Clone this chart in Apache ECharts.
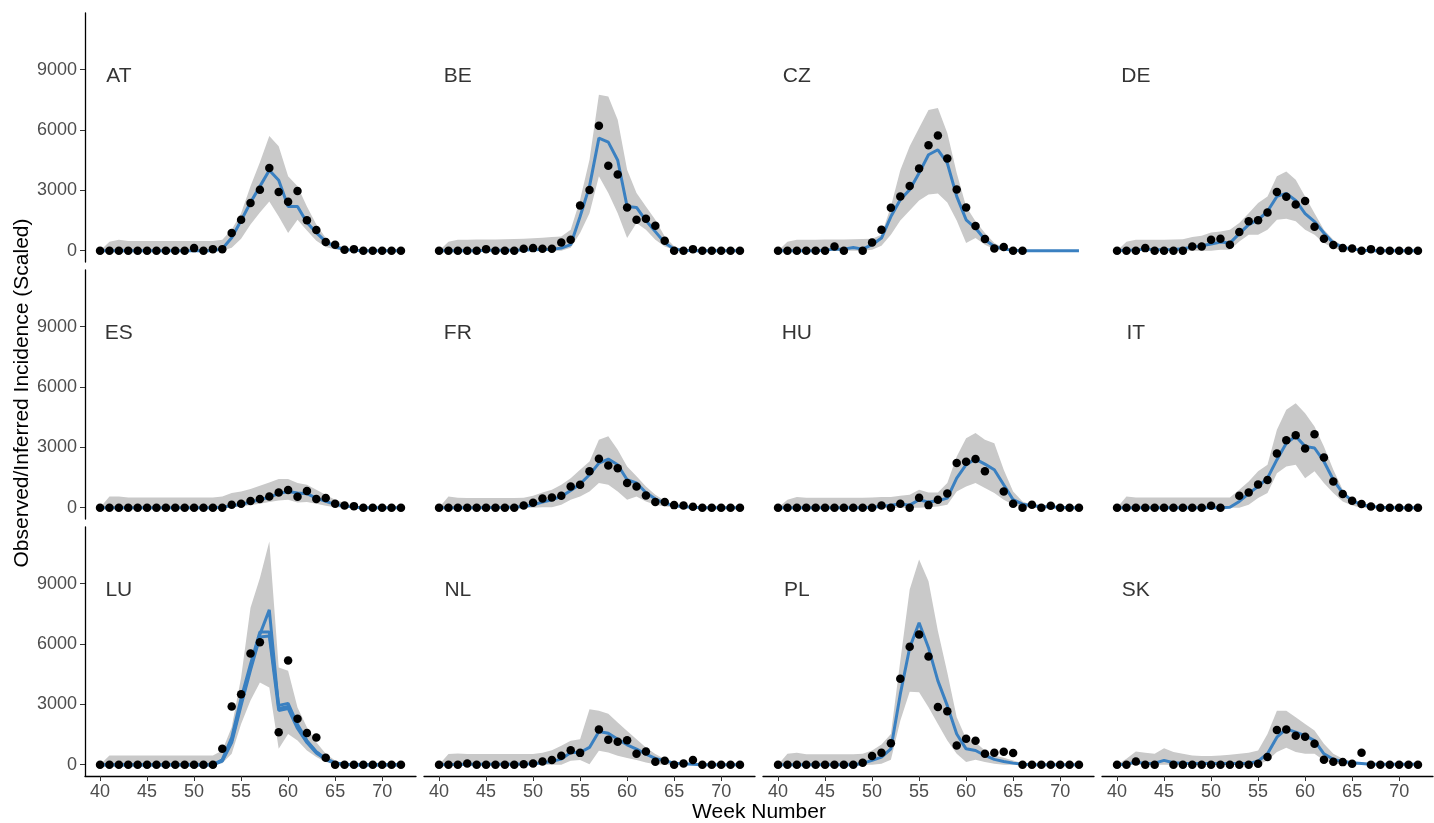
<!DOCTYPE html>
<html>
<head>
<meta charset="utf-8">
<title>Observed/Inferred Incidence by country</title>
<script src="https://cdn.jsdelivr.net/npm/echarts@6/dist/echarts.min.js"></script>
<style>
  html, body { margin: 0; padding: 0; background: #fff; }
  #chart { width: 1434px; height: 823px; }
</style>
</head>
<body>
<div id="chart"></div>
<script>
// week 40 .. 72
const weeks = [40,41,42,43,44,45,46,47,48,49,50,51,52,53,54,55,56,57,58,59,60,61,62,63,64,65,66,67,68,69,70,71,72];
const xTicks = [40,45,50,55,60,65,70];
const yTicks = [0,3000,6000,9000];

// AT
const atObs = [0,0,0,0,0,0,0,0,0,0,130,0,80,80,880,1540,2370,3030,4110,2920,2440,2970,1510,1030,430,300,50,80,0,0,0,0,0];
const atMed = [0,0,0,0,0,0,0,0,0,0,0,0,0,100,650,1500,2400,3200,4000,3500,2200,2200,1400,900,450,200,60,20,0,0,0,0,0];
const atLo  = [0,0,0,0,0,0,0,0,0,0,0,0,0,0,150,600,1300,1900,2450,1700,880,1540,1000,500,180,60,0,0,0,0,0,0,0];
const atHi  = [0,450,550,480,480,480,480,480,480,480,480,480,480,550,1040,1870,3200,4400,5700,5200,3700,3200,2200,1300,630,300,130,40,0,0,0,0,0];
// BE
const beObs = [0,0,0,0,0,80,0,0,0,100,130,100,100,410,550,2250,3020,6210,4230,3790,2150,1540,1590,1240,500,0,0,80,0,0,0,0,0];
const beMed = [0,0,0,0,0,20,20,20,30,40,50,60,70,130,300,1700,3200,5600,5400,4500,2200,2150,1500,950,400,80,20,0,0,0,0,0,0];
const beLo  = [0,0,0,0,0,0,0,0,0,0,0,0,0,0,150,880,1870,3700,2870,1870,630,1375,1040,550,215,50,0,0,0,0,0,0,0];
const beHi  = [0,450,550,550,560,560,560,570,580,600,620,650,680,710,1040,2540,4520,7750,7670,6510,4030,2870,2200,1540,710,220,50,0,0,0,0,0,0];
// CZ
const czObs = [0,0,0,0,0,0,215,0,null,0,410,1040,2140,2700,3220,4090,5250,5730,4590,3050,2150,1230,580,115,180,0,0,null,null,null,null,null,null];
const czMed = [0,0,0,0,0,30,80,80,165,80,300,630,1700,2540,3030,3860,4770,5020,4360,2700,1540,1130,550,215,80,20,0,0,0,0,0,0,0];
const czLo  = [0,0,0,0,0,0,0,0,0,0,50,250,800,1500,2000,2500,2800,2850,2400,1500,380,630,300,80,0,0,0,0,0,0,0,0,0];
const czHi  = [0,450,550,550,550,560,560,560,570,580,600,800,2200,4000,5200,6100,7000,7100,5850,3860,2200,1460,880,380,130,30,0,0,0,0,0,0,0];
// DE
const deObs = [0,0,0,130,0,0,0,0,215,215,550,600,300,930,1470,1510,1900,2920,2680,2300,2470,1190,600,280,130,115,0,80,0,0,0,0,0];
const deMed = [0,20,40,80,50,50,60,100,180,250,330,430,380,850,1300,1540,1960,2700,2850,2500,1850,1450,880,380,180,80,30,0,0,0,0,0,0];
const deLo  = [0,0,0,0,0,0,0,0,0,0,0,50,50,460,800,800,1040,1540,1590,1460,1040,800,380,130,0,0,0,0,0,0,0,0,0];
const deHi  = [0,450,550,550,550,550,560,570,680,750,910,960,1040,1375,1870,2370,2700,3700,3940,3530,2700,1870,1040,550,250,100,0,0,0,0,0,0,0];
// ES
const esObs = [0,0,0,0,0,0,0,0,0,0,0,0,0,0,150,200,330,430,560,760,880,550,830,430,480,200,115,80,0,0,0,0,0];
const esMed = [0,0,0,0,0,0,0,0,0,0,0,0,0,30,100,170,280,400,530,700,810,730,700,480,315,165,80,30,0,0,0,0,0];
const esLo  = [0,0,0,0,0,0,0,0,0,0,0,0,0,0,30,60,130,200,280,365,400,265,280,200,100,30,0,0,0,0,0,0,0];
const esHi  = [0,560,560,510,510,510,510,510,510,510,510,510,510,560,730,810,930,1090,1260,1425,1425,1230,1140,900,650,400,230,100,30,0,0,0,0];
// FR
const frObs = [0,0,0,0,0,0,0,0,0,115,250,465,510,600,1060,1140,1810,2440,2100,1960,1230,1060,610,280,280,130,115,50,0,0,0,0,0];
const frMed = [0,0,0,0,0,10,15,20,30,65,150,280,400,560,860,1180,1640,2220,2420,2140,1390,1230,760,430,230,115,50,20,0,0,0,0,0];
const frLo  = [0,0,0,0,0,0,0,0,0,0,0,20,30,150,400,560,810,1230,1140,810,400,560,315,150,60,20,0,0,0,0,0,0,0];
const frHi  = [0,560,500,480,480,480,480,480,480,500,600,760,900,1140,1470,1890,2300,3380,3550,2880,2050,1560,1060,650,350,150,60,20,0,0,0,0,0];
// HU
const huObs = [0,0,0,0,0,0,0,0,0,0,0,115,0,200,0,500,130,400,710,2220,2290,2420,1810,null,810,200,0,150,0,100,0,0,0];
const huMed = [0,0,0,0,0,0,0,0,0,0,20,60,130,180,130,400,280,350,480,1470,2140,2420,2170,1890,1140,400,180,100,60,40,20,0,0];
const huLo  = [0,0,0,0,0,0,0,0,0,0,0,0,0,0,0,0,20,60,150,810,1060,1230,980,730,400,150,30,0,0,0,0,0,0];
const huHi  = [0,400,530,500,500,500,500,500,500,500,510,530,530,600,650,900,760,760,1230,2550,3460,3710,3380,3210,1890,810,315,150,60,30,0,0,0];
// IT
const itObs = [0,0,0,0,0,0,0,0,0,0,100,0,null,600,760,1160,1380,2700,3350,3600,2950,3650,2500,1310,680,350,180,60,0,0,0,0,0];
const itMed = [0,0,0,0,0,0,0,0,0,0,0,0,20,315,700,1060,1470,2390,3210,3550,3050,2970,2300,1390,730,350,150,60,20,0,0,0,0];
const itLo  = [0,0,0,0,0,0,0,0,0,0,0,0,0,0,150,480,730,1720,2050,2140,1470,1810,1230,730,315,115,0,0,0,0,0,0,0];
const itHi  = [0,560,510,510,510,510,510,510,510,510,510,510,510,900,1310,1810,2140,3880,4870,5200,4700,4040,3050,1890,900,400,180,60,0,0,0,0,0];
// LU (three median runs)
const luObs  = [0,0,0,0,0,0,0,0,0,0,0,0,0,790,2890,3500,5530,6090,null,1620,5180,2290,1580,1350,350,0,0,0,0,0,0,0,0];
const luMed  = [0,0,0,0,0,0,0,0,0,0,0,0,0,215,1200,3100,4830,6480,7700,2800,2900,1900,1150,620,280,80,20,0,0,0,0,0,0];
const luMedB = [0,0,0,0,0,0,0,0,0,0,0,0,0,250,1350,3300,5000,6600,6600,2950,3050,2000,1200,650,300,90,20,0,0,0,0,0,0];
const luMedC = [0,0,0,0,0,0,0,0,0,0,0,0,0,180,1100,2950,4700,6350,6400,2700,2800,1800,1100,580,260,70,15,0,0,0,0,0,0];
const luLo   = [0,0,0,0,0,0,0,0,0,0,0,0,0,80,545,2030,3190,4090,3840,790,1530,1200,710,380,130,0,0,0,0,0,0,0,0];
const luHi   = [0,460,460,460,460,460,460,460,460,460,460,460,460,710,1860,4340,7800,9290,11100,4830,4670,2850,1860,1120,545,215,50,0,0,0,0,0,0];
// NL
const nlObs = [0,0,0,65,0,0,0,0,0,30,65,165,230,445,725,590,null,1750,1240,1140,1220,545,660,150,200,0,65,230,0,0,0,0,0];
const nlMed = [0,10,15,20,20,20,20,25,30,40,50,100,165,280,610,610,860,1650,1570,1270,990,780,530,315,200,80,50,20,0,0,0,0,0];
const nlLo  = [0,0,0,0,0,0,0,0,0,0,0,0,0,0,200,230,30,700,610,445,330,230,115,30,0,0,0,0,0,0,0,0,0];
const nlHi  = [0,530,560,530,530,530,530,530,530,530,540,600,725,940,1190,1270,2760,2680,2540,2100,1680,1270,860,530,280,130,50,20,0,0,0,0,0];
// PL
const plObs = [0,0,0,0,0,0,0,0,0,100,430,600,1070,4270,5870,6470,5380,2870,2660,960,1290,1190,545,600,645,580,0,0,0,0,0,0,0];
const plMed = [0,0,0,0,0,0,0,0,0,65,215,380,790,3510,5820,7060,5820,4170,2940,1530,790,710,460,265,165,80,20,0,0,0,0,0,0];
const plLo  = [0,0,0,0,0,0,0,0,0,0,0,50,250,2190,3630,3600,2860,2030,1200,545,130,250,130,50,0,0,0,0,0,0,0,0,0];
const plHi  = [0,545,600,520,520,520,520,520,520,545,710,1000,1530,5160,8710,10200,9120,6650,4580,2360,1290,1120,710,460,350,215,80,0,0,0,0,0,0];
// SK
const skObs = [0,0,165,0,0,null,0,0,0,0,0,0,0,0,0,50,380,1730,1750,1440,1390,1040,250,150,130,50,595,0,0,0,0,0,0];
const skMed = [0,30,130,60,80,215,100,80,65,65,65,65,65,65,65,180,545,1370,1780,1620,1450,1200,545,265,165,100,65,30,30,30,30,30,30];
const skLo  = [0,0,0,0,0,0,0,0,0,0,0,0,0,0,0,0,215,630,840,630,545,545,215,80,0,0,0,0,0,0,0,0,0];
const skHi  = [0,300,660,600,545,825,630,545,460,430,430,460,495,545,600,710,1530,2690,2690,2360,2030,1700,1040,545,300,130,30,0,0,0,0,0,0];

const panels = [
    { name: 'AT', obs: atObs, med: [atMed], lo: atLo, hi: atHi },
    { name: 'BE', obs: beObs, med: [beMed], lo: beLo, hi: beHi },
    { name: 'CZ', obs: czObs, med: [czMed], lo: czLo, hi: czHi },
    { name: 'DE', obs: deObs, med: [deMed], lo: deLo, hi: deHi },
    { name: 'ES', obs: esObs, med: [esMed], lo: esLo, hi: esHi },
    { name: 'FR', obs: frObs, med: [frMed], lo: frLo, hi: frHi },
    { name: 'HU', obs: huObs, med: [huMed], lo: huLo, hi: huHi },
    { name: 'IT', obs: itObs, med: [itMed], lo: itLo, hi: itHi },
    { name: 'LU', obs: luObs, med: [luMed, luMedB, luMedC], lo: luLo, hi: luHi },
    { name: 'NL', obs: nlObs, med: [nlMed], lo: nlLo, hi: nlHi },
    { name: 'PL', obs: plObs, med: [plMed], lo: plLo, hi: plHi },
    { name: 'SK', obs: skObs, med: [skMed], lo: skLo, hi: skHi }
];

const FONT = '"Liberation Sans", Arial, sans-serif';
const BAND = '#c9c9c9';
const BLUE = '#3a80c1';

// panel geometry (4 columns x 3 rows)
const left0 = 85, panelW = 331, stepX = 339;
const top0 = 13, panelH = 249, stepY = 257;

const pairs = ys => weeks.map((w, i) => [w, ys[i]]).filter(p => p[1] != null);

const grid = [], xAxis = [], yAxis = [], series = [];

panels.forEach((p, i) => {
    const col = i % 4, row = Math.floor(i / 4);
    const bottomRow = row === 2, leftCol = col === 0;

    grid.push({
        left: left0 + col * stepX, top: top0 + row * stepY,
        width: panelW, height: panelH,
        outerBoundsMode: 'none'
    });
    xAxis.push({
        gridIndex: i, type: 'value', min: 38.4, max: 73.6,
        axisLine: { show: bottomRow, onZero: false, lineStyle: { color: '#000', width: 1.3 } },
        axisTick: { show: bottomRow, customValues: xTicks, length: 5, lineStyle: { color: '#333' } },
        axisLabel: { show: bottomRow, customValues: xTicks, color: '#4d4d4d', fontSize: 18, fontFamily: FONT, margin: 7 },
        splitLine: { show: false }
    });
    yAxis.push({
        gridIndex: i, type: 'value', min: -560, max: 11820,
        axisLine: { show: leftCol, onZero: false, lineStyle: { color: '#000', width: 1.3 } },
        axisTick: { show: leftCol, customValues: yTicks, length: 5, lineStyle: { color: '#333' } },
        axisLabel: {
            show: leftCol, customValues: yTicks, color: '#4d4d4d', fontSize: 18, fontFamily: FONT, margin: 8,
            formatter: v => String(v)
        },
        splitLine: { show: false }
    });

    // uncertainty band, one polygon: lower edge forward, upper edge back
    series.push({
        type: 'custom', xAxisIndex: i, yAxisIndex: i, silent: true, z: 1,
        data: weeks.map((w, k) => [w, p.lo[k], p.hi[k]]),
        encode: { x: 0, y: [1, 2] },
        renderItem: (params, api) => {
            if (params.dataIndex !== 0) return null;
            const pts = [];
            weeks.forEach((w, k) => pts.push(api.coord([w, p.lo[k]])));
            for (let k = weeks.length - 1; k >= 0; k--) pts.push(api.coord([weeks[k], p.hi[k]]));
            return { type: 'polygon', shape: { points: pts }, style: { fill: BAND } };
        }
    });
    p.med.forEach(m => {
        series.push({
            type: 'line', xAxisIndex: i, yAxisIndex: i,
            data: pairs(m), symbol: 'none', silent: true,
            lineStyle: { color: BLUE, width: 3 }, z: 2
        });
    });
    series.push({
        type: 'scatter', xAxisIndex: i, yAxisIndex: i,
        data: pairs(p.obs), symbolSize: 8.5, silent: true,
        itemStyle: { color: '#000', opacity: 1 }, z: 3
    });
    // country label
    series.push({
        type: 'scatter', xAxisIndex: i, yAxisIndex: i, silent: true,
        data: [{ value: [42, 8700], name: p.name }], symbolSize: 1,
        itemStyle: { color: 'rgba(0,0,0,0)' },
        label: { show: true, position: 'inside', formatter: '{b}', color: '#000', fontSize: 21, fontFamily: FONT },
        z: 4
    });
});

const chart = echarts.init(document.getElementById('chart'));
chart.setOption({
    animation: false,
    backgroundColor: '#fff',
    grid, xAxis, yAxis, series,
    graphic: [
        {
            type: 'text', x: 759, y: 812,
            style: { text: 'Week Number', font: '21px ' + FONT, fill: '#000', textAlign: 'center', textVerticalAlign: 'middle' }
        },
        {
            type: 'text', x: 22, y: 393, rotation: Math.PI / 2,
            style: { text: 'Observed/Inferred Incidence (Scaled)', font: '21px ' + FONT, fill: '#000', textAlign: 'center', textVerticalAlign: 'middle' }
        }
    ]
});
</script>
</body>
</html>
